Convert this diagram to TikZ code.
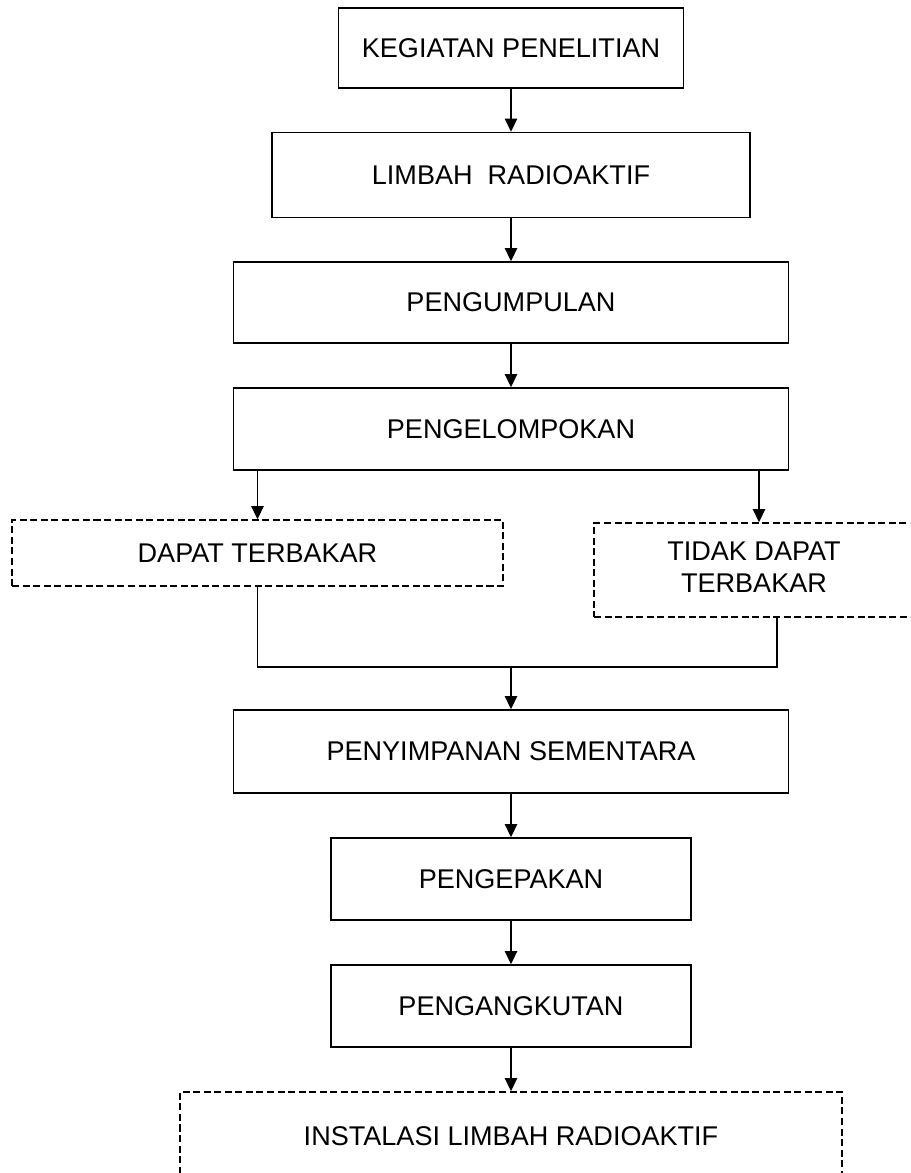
\documentclass[tikz,border=0pt]{standalone}
\usepackage{fontspec}
\setmainfont{Liberation Sans}
\usepackage{tikz}
\usetikzlibrary{arrows.meta,positioning,calc}

\begin{document}
\begin{tikzpicture}[->,>={Triangle[length=7.5pt,width=7pt]}, line width=0.8pt,
	proc/.style={draw, rectangle, inner sep=0pt, font=\fontsize{15.4}{18.5}\selectfont},
	opt/.style={proc, dash pattern=on 4pt off 2pt}]

	\clip (0.0, 0.0) rectangle (18.2, 23.46);

	\node[proc, minimum width=6.9cm, minimum height=1.6cm, shift = {(10.22, 22.5)}] (keg) {KEGIATAN PENELITIAN};

	\node[proc, minimum width=9.56cm, minimum height=1.7cm, shift = {(10.22, 19.96)}] (lim) {LIMBAH\ \ RADIOAKTIF};

	\node[proc, minimum width=11.1cm, minimum height=1.62cm, shift = {(10.22, 17.41)}] (pgm) {PENGUMPULAN};

	\node[proc, minimum width=11.1cm, minimum height=1.64cm, shift = {(10.22, 14.88)}] (pgl) {PENGELOMPOKAN};

	\node[opt, minimum width=9.82cm, minimum height=1.32cm, shift = {(5.15, 12.4)}] (dtb) {DAPAT TERBAKAR};

	\node[opt, minimum width=6.4cm, minimum height=1.88cm, shift = {(15.08, 12.06)}] (tdtb) {
		\begin{tabular}{c}
			TIDAK DAPAT\\
			TERBAKAR
		\end{tabular}
	};

	\coordinate[shift = {(10.22, 10.12)}] (join);

	\node[proc, minimum width=11.1cm, minimum height=1.66cm, shift = {(10.22, 8.43)}] (pys) {PENYIMPANAN SEMENTARA};

	\node[proc, minimum width=7.2cm, minimum height=1.64cm, shift = {(10.22, 5.88)}] (pgp) {PENGEPAKAN};

	\node[proc, minimum width=7.2cm, minimum height=1.64cm, shift = {(10.22, 3.34)}] (pga) {PENGANGKUTAN};

	\node[opt, minimum width=13.24cm, minimum height=1.76cm, shift = {(10.22, 0.74)}] (ins) {INSTALASI LIMBAH RADIOAKTIF};

	\path[->] (keg.south) edge [] (lim.north);
	\path[->] (lim.south) edge [] (pgm.north);
	\path[->] (pgm.south) edge [] (pgl.north);

	\path[->] (pgl.south -| dtb.north) edge [] (dtb.north);
	\path[->] ($(pgl.south -| tdtb.north) + (0.1, 0)$) edge [] ($(tdtb.north) + (0.1, 0)$);

	\draw[-] (dtb.south) |- (join) -| ($(tdtb.south) + (0.46, 0)$);
	\path[->] (join) edge [] (pys.north);

	\path[->] (pys.south) edge [] (pgp.north);
	\path[->] (pgp.south) edge [] (pga.north);
	\path[->] (pga.south) edge [] (ins.north);
\end{tikzpicture}
\end{document}
